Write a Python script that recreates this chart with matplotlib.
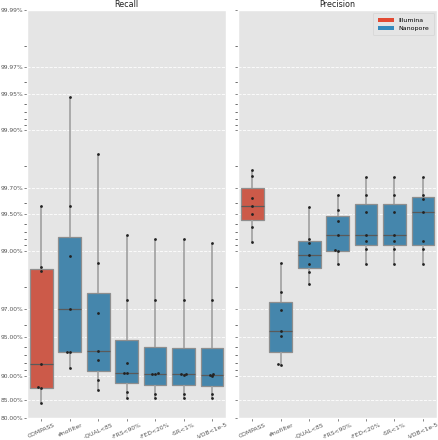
import numpy as np
import pandas as pd
import matplotlib
matplotlib.use('Agg')
import matplotlib.pyplot as plt
from matplotlib.ticker import FixedLocator, FuncFormatter
from matplotlib.patches import Patch
import seaborn as sns

# 필터 단계 (x축)
categories = ['COMPASS', '#nofilter', '-QUAL<85', '-FRS<90%', '-FED<20%', '-SR<1%', '-VDB<1e-5']
tech = ['Illumina', 'Nanopore', 'Nanopore', 'Nanopore', 'Nanopore', 'Nanopore', 'Nanopore']

# 샘플별 recall 값
recall_values = [
    [0.9957, 0.9863, 0.9854, 0.9192, 0.8780, 0.8770, 0.8420],
    [0.99947, 0.99576, 0.9889, 0.9703, 0.9338, 0.9337, 0.9127],
    [0.99841, 0.9874, 0.9678, 0.9350, 0.9237, 0.8932, 0.8734],
    [0.99256, 0.9747, 0.9200, 0.9054, 0.9054, 0.8676, 0.8555],
    [0.99202, 0.9747, 0.9045, 0.9030, 0.9027, 0.8647, 0.8538],
    [0.99202, 0.9747, 0.9035, 0.9030, 0.9020, 0.8647, 0.8538],
    [0.99144, 0.9747, 0.9030, 0.9020, 0.8987, 0.8647, 0.8535],
]

# 샘플별 precision 값
precision_values = [
    [0.99786, 0.99760, 0.99635, 0.99574, 0.99507, 0.99369, 0.99150],
    [0.98734, 0.9781, 0.9693, 0.9548, 0.9508, 0.9180, 0.9175],
    [0.99563, 0.99206, 0.99133, 0.98910, 0.98716, 0.98503, 0.98110],
    [0.99653, 0.99538, 0.99437, 0.99256, 0.99010, 0.98990, 0.98716],
    [0.99757, 0.99651, 0.99526, 0.99256, 0.99171, 0.99041, 0.98716],
    [0.99757, 0.99651, 0.99526, 0.99256, 0.99171, 0.99041, 0.98716],
    [0.99757, 0.99651, 0.99626, 0.99526, 0.99171, 0.99041, 0.98716],
]

y_ticks = [0.80, 0.85, 0.90, 0.95, 0.97, 0.99, 0.995, 0.997, 0.999, 0.9995, 0.9997, 0.9999]
palette = {'Illumina': '#E24A33', 'Nanopore': '#348ABD'}

plt.style.use('ggplot')
plt.rcParams['font.family'] = ['DejaVu Sans']


def to_frame(values):
    rows = []
    for cat, t, vals in zip(categories, tech, values):
        for v in vals:
            rows.append({'filter': cat, 'tech': t, 'value': v})
    return pd.DataFrame(rows)


fig, axes = plt.subplots(1, 2, figsize=(4.38, 4.40), dpi=100, sharey=True)
fig.subplots_adjust(left=0.062, right=0.998, bottom=0.05, top=0.977, wspace=0.06)

for ax, values, title in zip(axes, [recall_values, precision_values], ['Recall', 'Precision']):
    df = to_frame(values)
    sns.boxplot(data=df, x='filter', y='value', hue='tech', dodge=False, palette=palette,
                order=categories, width=0.8, linewidth=0.9, linecolor='#8E8E8E',
                showfliers=False, showcaps=False,
                whiskerprops={'color': '#A0A0A0', 'linewidth': 1.2},
                medianprops={'color': '#5A5A5A', 'linewidth': 0.9},
                ax=ax)
    sns.swarmplot(data=df, x='filter', y='value', order=categories, color='#222222',
                  size=2.0, ax=ax)
    ax.set_title(title, fontsize=5.8, pad=2, color='#222222')
    ax.set_xlabel('')
    ax.set_ylabel('')
    ax.grid(False)
    ax.yaxis.grid(True, color='white', linestyle='--', linewidth=0.6)
    ax.tick_params(axis='both', labelsize=4.3, length=2, width=0.5, pad=1.0, colors='#555555')
    for lab in ax.get_xticklabels():
        lab.set_rotation(24)
        lab.set_ha('center')
    if ax.get_legend() is not None:
        ax.get_legend().remove()

axes[0].set_yscale('logit')
axes[0].set_ylim(0.8, 0.9999)
axes[0].yaxis.set_major_locator(FixedLocator(y_ticks))
axes[0].yaxis.set_major_formatter(FuncFormatter(lambda v, p: f'{v * 100:.2f}%'))

handles = [Patch(facecolor=palette[t], edgecolor='none') for t in ['Illumina', 'Nanopore']]
axes[1].legend(handles, ['Illumina', 'Nanopore'], loc='upper right', fontsize=4.5,
               facecolor='#E5E5E5', edgecolor='#D0D0D0', handlelength=2.6,
               handleheight=0.6, borderpad=0.7, labelspacing=0.5)

fig.savefig('out.png', dpi=100)
